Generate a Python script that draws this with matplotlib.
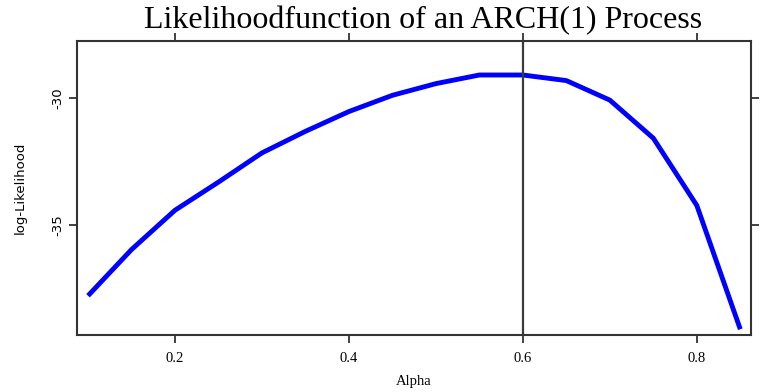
import matplotlib
matplotlib.use("Agg")
import matplotlib.pyplot as plt

# Log-likelihood of an ARCH(1) model evaluated on a grid of alpha values
alpha = [0.10, 0.15, 0.20, 0.25, 0.30, 0.35, 0.40, 0.45,
         0.50, 0.55, 0.60, 0.65, 0.70, 0.75, 0.80, 0.85]
loglik = [-37.78, -35.96, -34.41, -33.30, -32.15, -31.30, -30.52, -29.88,
          -29.42, -29.08, -29.08, -29.30, -30.07, -31.57, -34.22, -39.10]
alpha_hat = 0.6
x_ticks = [0.2, 0.4, 0.6, 0.8]
x_tick_labels = ["0.2", "0.4", "0.6", "0.8"]
y_ticks = [-30, -35]
y_tick_labels = ["-30", "-35"]

narrow = ["DejaVu Sans Condensed", "DejaVu Sans"]

fig = plt.figure(figsize=(7.71, 3.92), dpi=100)
ax = fig.add_axes([0.1003, 0.1446, 0.8734, 0.7508])

ax.plot(alpha, loglik, color="#0000ff", lw=3.5, solid_capstyle="butt",
        solid_joinstyle="round")
ax.axvline(alpha_hat, color="#3a3a3a", lw=1.6)

ax.set_xlim(0.0877, 0.862)
ax.set_ylim(-39.34, -27.74)

edge = "#333333"
for s in ax.spines.values():
    s.set_color(edge)
    s.set_linewidth(1.5)

ax.set_xticks(x_ticks)
ax.set_xticklabels(x_tick_labels, family="Liberation Serif", fontsize=10.5)
ax.set_yticks(y_ticks)
ax.set_yticklabels(y_tick_labels, family=narrow, fontsize=9.5,
                   rotation=90, va="center")
ax.tick_params(axis="both", direction="out", length=6, width=1.3, color=edge,
               top=True, right=True, labeltop=False, labelright=False)
ax.tick_params(axis="x", pad=6)
ax.tick_params(axis="y", pad=3)

ax.set_xlabel("Alpha", family="Liberation Serif", fontsize=10.5, labelpad=7)
ax.set_ylabel("log-Likelihood", family=narrow, fontsize=9.5, labelpad=18)
fig.text(0.549, 0.948, "Likelihoodfunction of an ARCH(1) Process",
         family="Liberation Serif", fontsize=23, ha="center", va="center")

fig.savefig("out.png", dpi=100)
